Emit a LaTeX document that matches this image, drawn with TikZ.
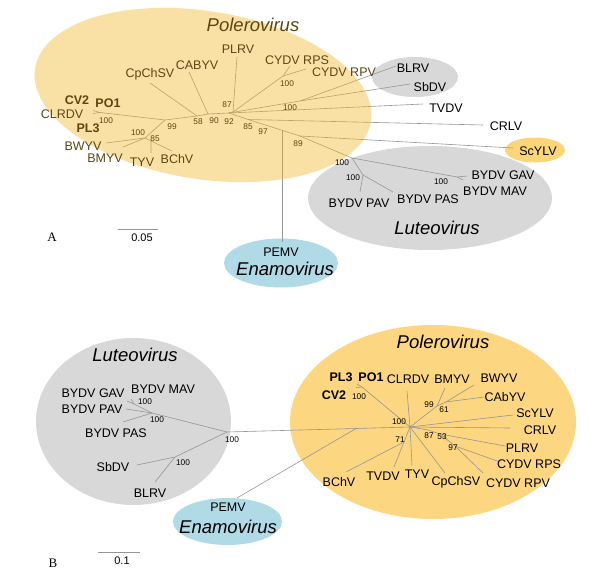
\documentclass[tikz,border=0pt]{standalone}
\usepackage{fontspec}
\setmainfont{Liberation Sans}
\newfontfamily\seriffont{Liberation Serif}
\definecolor{topyel}{RGB}{242,182,30}
\definecolor{intext}{RGB}{92,70,18}
\definecolor{botyel}{RGB}{252,214,128}
\definecolor{smallyel}{RGB}{250,214,120}
\definecolor{grayell}{RGB}{216,216,216}
\definecolor{blueell}{RGB}{176,218,230}
\definecolor{branch}{RGB}{150,150,150}
\tikzset{
  lab/.style={font=\fontsize{12.5}{14}\selectfont, inner sep=0pt},
  blab/.style={font=\fontsize{12.5}{14}\selectfont\bfseries, inner sep=0pt},
  boot/.style={font=\fontsize{8.3}{9}\selectfont, inner sep=0pt},
  genus/.style={font=\fontsize{18.5}{20}\selectfont\itshape, inner sep=0pt},
  br/.style={draw=branch, line width=0.6pt},
  ylw/.style={text=intext},
  panel/.style={font=\fontsize{13}{14}\selectfont\seriffont, inner sep=0pt},
}
\begin{document}
\begin{tikzpicture}[x=1pt,y=-1pt]
\useasboundingbox (0,0) rectangle (600,586);
\fill[white] (0,0) rectangle (600,586);
% ================= PANEL A =================
\fill[grayell] (415,77) ellipse [x radius=43, y radius=20];
\fill[smallyel] (535,150) ellipse [x radius=30, y radius=12.5];
\fill[grayell] (430,198) ellipse [x radius=122, y radius=52];
\fill[blueell] (281,263) ellipse [x radius=57, y radius=24.5];
% tree A
\coordinate (tA1) at (93,110.5);
\coordinate (tA2) at (93,113.5);
\coordinate (tcl) at (100,112.5);
\coordinate (t99) at (165,120);
\coordinate (t100) at (145,138);
\coordinate (tbw) at (106,143);
\coordinate (tbm) at (123,147);
\coordinate (t85a) at (151,141);
\coordinate (tty) at (151,153);
\coordinate (tbc) at (172,151);
\coordinate (t58) at (197,116);
\coordinate (tcp) at (150,83);
\coordinate (t90) at (208,114);
\coordinate (tca) at (189,72);
\coordinate (t92) at (229,113);
\coordinate (t87) at (233,112);
\coordinate (tpl) at (237,57);
\coordinate (tcy) at (283,76);
\coordinate (trps) at (290,66);
\coordinate (trpv) at (306,69);
\coordinate (tbs) at (300,101);
\coordinate (tbl) at (396,66);
\coordinate (tsb) at (410,84);
\coordinate (ttv) at (423,104);
\coordinate (t85b) at (248,119.5);
\coordinate (tcr) at (483,125);
\coordinate (tp) at (282,130.3);
\coordinate (tpe) at (282,242);
\coordinate (t89) at (300,136);
\coordinate (tsc) at (513,148);
\coordinate (tl) at (352,158);
\coordinate (tpv) at (363,175);
\coordinate (tpav) at (360,192);
\coordinate (tpas) at (393,192);
\coordinate (tgm) at (457,177);
\coordinate (tgav) at (467,176);
\coordinate (tmav) at (463,180);
\draw[br] (tA1) -- (tcl) -- (tA2);
\draw[br] (tcl) -- (t99) -- (t58) -- (t90) -- (t92) -- (t85b) -- (tp) -- (t89);
\draw[br] (t99) -- (t100) -- (tbw);
\draw[br] (t100) -- (tbm);
\draw[br] (t100) -- (t85a) -- (tty);
\draw[br] (t85a) -- (tbc);
\draw[br] (t58) -- (tcp);
\draw[br] (t90) -- (tca);
\draw[br] (t92) -- (t87) -- (tpl);
\draw[br] (t87) -- (tcy) -- (trps);
\draw[br] (tcy) -- (trpv);
\draw[br] (t92) -- (tbs) -- (tbl);
\draw[br] (tbs) -- (tsb);
\draw[br] (t92) -- (ttv);
\draw[br] (t85b) -- (tcr);
\draw[br] (tp) -- (tpe);
\draw[br] (t89) -- (tsc);
\draw[br] (t89) -- (tl) -- (tpv) -- (tpav);
\draw[br] (tpv) -- (tpas);
\draw[br] (tl) -- (tgm) -- (tgav);
\draw[br] (tgm) -- (tmav);
% yellow overlay
\fill[topyel, fill opacity=0.4] (203,95) ellipse [x radius=170, y radius=84, rotate=-9];
% labels A
\node[genus,ylw] (pA) at (253,25) {Polerovirus};
\node[lab,ylw] (lplrv) at (238,49) {PLRV};
\node[lab,ylw] (lrps) at (297,60) {CYDV RPS};
\node[lab,ylw] (lrpv) at (344,72) {CYDV RPV};
\node[lab,ylw] (lcab) at (197,65) {CABYV};
\node[lab,ylw] (lcp) at (150,74) {CpChSV};
\node[blab,ylw] (lcv) at (77,100) {CV2};
\node[blab,ylw] (lpo) at (108,103) {PO1};
\node[lab,ylw] (lclr) at (62,114) {CLRDV};
\node[blab,ylw] (lpl3) at (88,128) {PL3};
\node[lab,ylw] (lbw) at (83,146) {BWYV};
\node[lab,ylw] (lbm) at (105,158) {BMYV};
\node[lab,ylw] (lty) at (142,162) {TYV};
\node[lab,ylw] (lbc) at (177,159) {BChV};
\node[boot,ylw] at (106,121) {100};
\node[boot,ylw] at (138,133) {100};
\node[boot,ylw] at (172,127) {99};
\node[boot,ylw] at (155,139) {85};
\node[boot,ylw] at (198,122) {58};
\node[boot,ylw] at (214,121) {90};
\node[boot,ylw] at (229,122) {92};
\node[boot,ylw] at (227,105) {87};
\node[boot,ylw] at (248,127) {85};
\node[boot,ylw] at (263,132) {97};
\node[boot,ylw] at (298,144) {89};
\node[boot,ylw] at (287,84) {100};
\node[boot,ylw] at (290,108) {100};
\node[lab] (lbl) at (413,68) {BLRV};
\node[lab] (lsb) at (430,87) {SbDV};
\node[lab] (ltv) at (446,108) {TVDV};
\node[lab] (lcr) at (506,126) {CRLV};
\node[lab] (lsc) at (538,151) {ScYLV};
\node[lab] (lgav) at (503,175) {BYDV GAV};
\node[lab] (lmav) at (495,191) {BYDV MAV};
\node[lab] (lpav) at (359,203) {BYDV PAV};
\node[lab] (lpas) at (428,199) {BYDV PAS};
\node[genus] (lutA) at (437,228) {Luteovirus};
\node[boot] at (342,163) {100};
\node[boot] at (353,178) {100};
\node[boot] at (441,182) {100};
\node[lab] (lpe) at (281,252.5) {PEMV};
\node[genus] (enA) at (285,268.5) {Enamovirus};
\coordinate (sa1) at (118,229);
\coordinate (sa2) at (158,229);
\draw[br] (sa1) -- (sa2);
\node[font=\fontsize{11}{12}\selectfont, inner sep=0pt] (sclA) at (142,238) {0.05};
\node[panel] (A) at (52,237) {A};
% ================= PANEL B =================
\fill[grayell] (133.5,421.5) ellipse [x radius=97.5, y radius=83.5];
\fill[botyel] (433,422) ellipse [x radius=143, y radius=97];
\fill[blueell] (227.5,521.5) ellipse [x radius=54.5, y radius=23.5];
\coordinate (bL) at (227,432);
\coordinate (bC) at (410,427);
\coordinate (bPJ) at (356,428.5);
\coordinate (bpe) at (237,498);
\coordinate (ba) at (152,413);
\coordinate (bpas) at (123,422);
\coordinate (bgm) at (134,404);
\coordinate (bpav) at (126,409);
\coordinate (bgav) at (127,401);
\coordinate (bmav) at (131,399);
\coordinate (bb) at (175,457);
\coordinate (bsb) at (137,465);
\coordinate (bbl) at (155,482);
\coordinate (bcl) at (362,387);
\coordinate (bt1) at (357,384);
\coordinate (bt2) at (356,387.5);
\coordinate (bclr) at (407,391);
\coordinate (b99) at (437,406);
\coordinate (bbm) at (445,388);
\coordinate (b61) at (446,402);
\coordinate (bbw) at (474,385);
\coordinate (bcab) at (484,397);
\coordinate (bsc) at (513,415);
\coordinate (bcr) at (510,428);
\coordinate (b87) at (428,430);
\coordinate (b53) at (440,434);
\coordinate (bpl) at (505,446);
\coordinate (b97) at (455,446);
\coordinate (brps) at (500,462);
\coordinate (brpv) at (483,473);
\coordinate (bcp) at (445,473);
\coordinate (b71) at (404,442);
\coordinate (btv) at (394,467);
\coordinate (bty) at (412,465);
\coordinate (bbc) at (346,472);
\draw[br] (bL) -- (bPJ) -- (bC);
\draw[br] (bPJ) -- (bpe);
\draw[br] (bL) -- (ba) -- (bpas);
\draw[br] (ba) -- (bpav);
\draw[br] (ba) -- (bgm) -- (bgav);
\draw[br] (bgm) -- (bmav);
\draw[br] (bL) -- (bb) -- (bsb);
\draw[br] (bb) -- (bbl);
\draw[br] (bC) -- (bcl) -- (bt1);
\draw[br] (bcl) -- (bt2);
\draw[br] (bC) -- (bclr);
\draw[br] (bC) -- (b99) -- (bbm);
\draw[br] (b99) -- (b61) -- (bbw);
\draw[br] (b61) -- (bcab);
\draw[br] (bC) -- (bsc);
\draw[br] (bC) -- (bcr);
\draw[br] (bC) -- (b87) -- (b53) -- (bpl);
\draw[br] (b53) -- (b97) -- (brps);
\draw[br] (b97) -- (brpv);
\draw[br] (bC) -- (bcp);
\draw[br] (bC) -- (bty);
\draw[br] (bC) -- (b71) -- (btv);
\draw[br] (b71) -- (bbc);
% labels B
\node[genus] (lutB) at (135,355) {Luteovirus};
\node[lab] (bgavl) at (93,393) {BYDV GAV};
\node[lab] (bmavl) at (163,389) {BYDV MAV};
\node[lab] (bpavl) at (92,409) {BYDV PAV};
\node[lab] (bpasl) at (116,433) {BYDV PAS};
\node[lab] (bsbl) at (113,467) {SbDV};
\node[lab] (bbll) at (150,493) {BLRV};
\node[boot] at (145,402) {100};
\node[boot] at (157,420) {100};
\node[boot] at (232,440) {100};
\node[boot] at (183,463) {100};
\node[lab] (bpel) at (228,507) {PEMV};
\node[genus] (enB) at (228,527) {Enamovirus};
\coordinate (sb1) at (98,552);
\coordinate (sb2) at (140,552);
\draw[br] (sb1) -- (sb2);
\node[font=\fontsize{11}{12}\selectfont, inner sep=0pt] (sclB) at (122,561) {0.1};
\node[panel] (B) at (53,563) {B};
\node[genus] (polB) at (443,342) {Polerovirus};
\node[blab] (bpl3) at (341,377) {PL3};
\node[blab] (bpo1) at (371,377) {PO1};
\node[blab] (bcv2) at (334,395) {CV2};
\node[boot] at (359,397) {100};
\node[lab] (bclrl) at (408,379) {CLRDV};
\node[lab] (bbml) at (452,379) {BMYV};
\node[lab] (bbwl) at (499,378) {BWYV};
\node[lab] (bcabl) at (505,397) {CAbYV};
\node[lab] (bscl) at (535,413) {ScYLV};
\node[lab] (bcrl) at (540,430) {CRLV};
\node[lab] (bpll) at (522,448) {PLRV};
\node[lab] (brpsl) at (529,464) {CYDV RPS};
\node[lab] (brpvl) at (518,483) {CYDV RPV};
\node[lab] (bcpl) at (456,482) {CpChSV};
\node[lab] (btyl) at (417,474) {TYV};
\node[lab] (btvl) at (383,476) {TVDV};
\node[lab] (bbcl) at (339,482) {BChV};
\node[boot] at (429,405) {99};
\node[boot] at (444,410) {61};
\node[boot] at (399,422) {100};
\node[boot] at (400,440) {71};
\node[boot] at (429,436) {87};
\node[boot] at (442,437) {53};
\node[boot] at (453,448) {97};
\end{tikzpicture}
\end{document}
